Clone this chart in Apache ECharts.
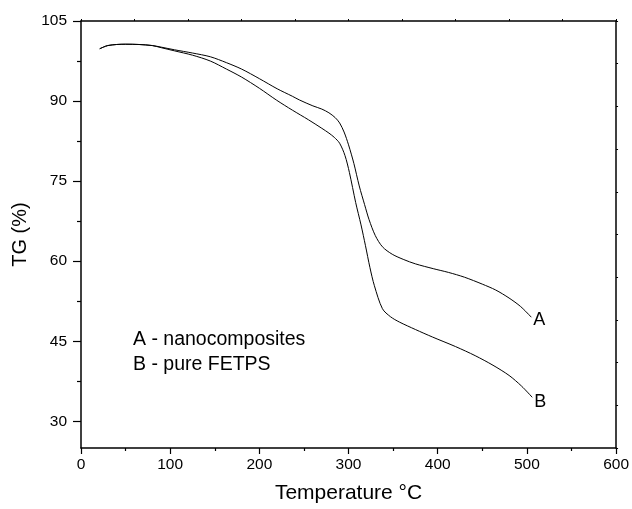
<!DOCTYPE html>
<html>
<head>
<meta charset="utf-8">
<script src="https://cdn.jsdelivr.net/npm/echarts@6/dist/echarts.min.js"></script>
<style>html,body{margin:0;padding:0;background:#fff}#c{width:632px;height:509px}</style>
</head>
<body>
<div id="c"></div>
<script>
// Temperature (°C) and TG (%) values
const tempA = [21, 25, 30, 40, 50, 65, 80, 90, 105, 125, 145, 163, 180, 200, 220, 237, 245, 260, 270, 278, 285, 290, 295, 300, 306, 312, 318, 323, 330, 338, 349, 362, 375, 395, 412, 430, 450, 465, 480, 493, 505];
const tgA   = [99.8, 100.1, 100.4, 100.6, 100.65, 100.6, 100.4, 100.1, 99.6, 99.0, 98.3, 97.2, 96.0, 94.2, 92.3, 90.9, 90.2, 89.1, 88.5, 87.8, 86.9, 85.9, 84.2, 81.8, 78.3, 74.1, 70.6, 67.8, 64.8, 62.7, 61.3, 60.3, 59.5, 58.6, 57.9, 57.0, 55.7, 54.6, 53.1, 51.5, 49.5];
const tempB = [21, 25, 30, 40, 50, 65, 80, 90, 105, 125, 145, 163, 180, 200, 219, 237, 255, 270, 278, 284, 290, 296, 301, 308, 314, 319, 324, 329, 338, 347, 357, 375, 394, 420, 442, 462, 480, 494, 506];
const tgB   = [99.8, 100.1, 100.4, 100.6, 100.65, 100.6, 100.4, 100.0, 99.4, 98.6, 97.5, 96.0, 94.5, 92.4, 90.2, 88.3, 86.5, 84.9, 84.0, 83.2, 82.1, 79.8, 76.6, 71.0, 66.8, 62.9, 58.8, 55.4, 51.1, 49.6, 48.6, 47.2, 45.8, 44.0, 42.3, 40.5, 38.6, 36.6, 34.5];
const seriesLabels = ['A', 'B'];
const legendLines = ['A - nanocomposites', 'B - pure FETPS'];
const yMajor = [30, 45, 60, 75, 90, 105];
const yMinor = [37.5, 52.5, 67.5, 82.5, 97.5];

const FONT = 'Liberation Sans, Arial, sans-serif';
const chart = echarts.init(document.getElementById('c'), null, {renderer: 'canvas'});
const pairs = (xs, ys) => xs.map((x, i) => [x, ys[i]]);
const lineStyle = {color: '#000', width: 1};

chart.setOption({
  animation: false,
  backgroundColor: '#fff',
  grid: {left: 81, right: 14, top: 21, bottom: 60},
  xAxis: [
    {
      type: 'value', position: 'bottom', min: 0, max: 600, interval: 100,
      name: 'Temperature \u00b0C', nameLocation: 'middle', nameGap: 35,
      nameTextStyle: {fontFamily: FONT, fontSize: 21, color: '#000'},
      axisLine: {onZero: false, lineStyle: {color: '#000', width: 1.5}},
      axisTick: {show: true, inside: false, length: 6, lineStyle: {color: '#000', width: 1.2}},
      minorTick: {show: true, splitNumber: 2, length: 3, lineStyle: {color: '#000', width: 1.2}},
      axisLabel: {fontFamily: FONT, fontSize: 15.5, color: '#000', margin: 9},
      splitLine: {show: false}
    },
    {
      type: 'value', position: 'top', min: 0, max: 600, interval: 60,
      axisLine: {onZero: false, lineStyle: {color: '#000', width: 1.5}},
      axisTick: {show: true, inside: false, length: 2, lineStyle: {color: '#000', width: 1}},
      axisLabel: {show: false}, splitLine: {show: false}
    }
  ],
  yAxis: [
    {
      type: 'value', position: 'left', min: 25, max: 105,
      name: 'TG (%)', nameLocation: 'middle', nameGap: 50,
      nameTextStyle: {fontFamily: FONT, fontSize: 20, color: '#000'},
      axisLine: {onZero: false, lineStyle: {color: '#000', width: 1.5}},
      axisTick: {show: true, inside: false, length: 8, customValues: yMajor, lineStyle: {color: '#000', width: 1.2}},
      axisLabel: {fontFamily: FONT, fontSize: 15.5, color: '#000', margin: 14, customValues: yMajor},
      splitLine: {show: false}
    },
    {
      type: 'value', position: 'left', min: 25, max: 105,
      axisLine: {show: false},
      axisTick: {show: true, inside: false, length: 4, customValues: yMinor, lineStyle: {color: '#000', width: 1.2}},
      axisLabel: {show: false}, splitLine: {show: false}
    },
    {
      type: 'value', position: 'right', min: 25, max: 105, interval: 8,
      axisLine: {onZero: false, lineStyle: {color: '#000', width: 1.5}},
      axisTick: {show: true, inside: false, length: 2, lineStyle: {color: '#000', width: 1}},
      axisLabel: {show: false}, splitLine: {show: false}
    }
  ],
  graphic: [
    {type: 'text', left: 133, top: 330, style: {text: legendLines[0], font: '19.5px ' + FONT, fill: '#000'}},
    {type: 'text', left: 133, top: 355, style: {text: legendLines[1], font: '19.5px ' + FONT, fill: '#000'}}
  ],
  series: [
    {
      type: 'line', name: seriesLabels[0], data: pairs(tempA, tgA), showSymbol: false, smooth: 0.3,
      lineStyle, itemStyle: {color: '#000'},
      endLabel: {show: true, formatter: seriesLabels[0], fontFamily: FONT, fontSize: 18, color: '#000', distance: 2, offset: [0, 3]}
    },
    {
      type: 'line', name: seriesLabels[1], data: pairs(tempB, tgB), showSymbol: false, smooth: 0.3,
      lineStyle, itemStyle: {color: '#000'},
      endLabel: {show: true, formatter: seriesLabels[1], fontFamily: FONT, fontSize: 18, color: '#000', distance: 2, offset: [0, 5]}
    }
  ]
});
</script>
</body>
</html>
